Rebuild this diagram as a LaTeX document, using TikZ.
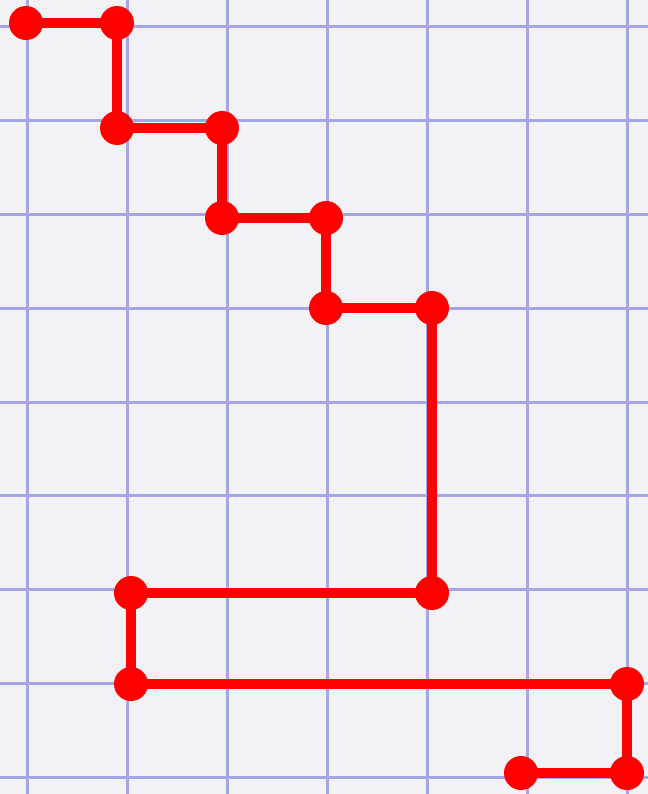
\documentclass[tikz,border=0pt]{standalone}
\usepackage{xcolor}
\usetikzlibrary{backgrounds}
\definecolor{cpapel}{RGB}{242,242,246}
\definecolor{ccuadro}{RGB}{165,165,232}
\definecolor{crojo}{RGB}{255,0,0}
\tikzset{
  punto/.style={circle, fill=crojo, inner sep=0pt, minimum size=0.68cm},
  tramo/.style={draw=crojo, line width=0.2cm},
  cuadro/.style={draw=ccuadro, line width=0.06cm},
}

\begin{document}
\begin{tikzpicture}[x=0.02cm, y=-0.02cm]
  \useasboundingbox (0,0) rectangle (648,794);
  % vertices del camino
  \node[punto] (p1)  at (26,23)   {};
  \node[punto] (p2)  at (117,23)  {};
  \node[punto] (p3)  at (117,128) {};
  \node[punto] (p4)  at (222,128) {};
  \node[punto] (p5)  at (222,218) {};
  \node[punto] (p6)  at (326,218) {};
  \node[punto] (p7)  at (326,308) {};
  \node[punto] (p8)  at (432,308) {};
  \node[punto] (p9)  at (432,593) {};
  \node[punto] (p10) at (131,593) {};
  \node[punto] (p11) at (131,684) {};
  \node[punto] (p12) at (627,684) {};
  \node[punto] (p13) at (627,773) {};
  \node[punto] (p14) at (521,773) {};
  \begin{scope}[on background layer]
    % hoja cuadriculada
    \fill[cpapel] (0,0) rectangle (648,794);
    \foreach \i in {0,...,6}
      \draw[cuadro] (27+100*\i,0) -- (27+100*\i,794);
    \foreach \j in {0,...,8}
      \draw[cuadro] (0,27+93.75*\j) -- (648,27+93.75*\j);
    % camino
    \foreach \a/\b in {1/2,2/3,3/4,4/5,5/6,6/7,7/8,8/9,9/10,10/11,11/12,12/13,13/14}
      \draw[tramo] (p\a.center) -- (p\b.center);
  \end{scope}
\end{tikzpicture}
\end{document}
